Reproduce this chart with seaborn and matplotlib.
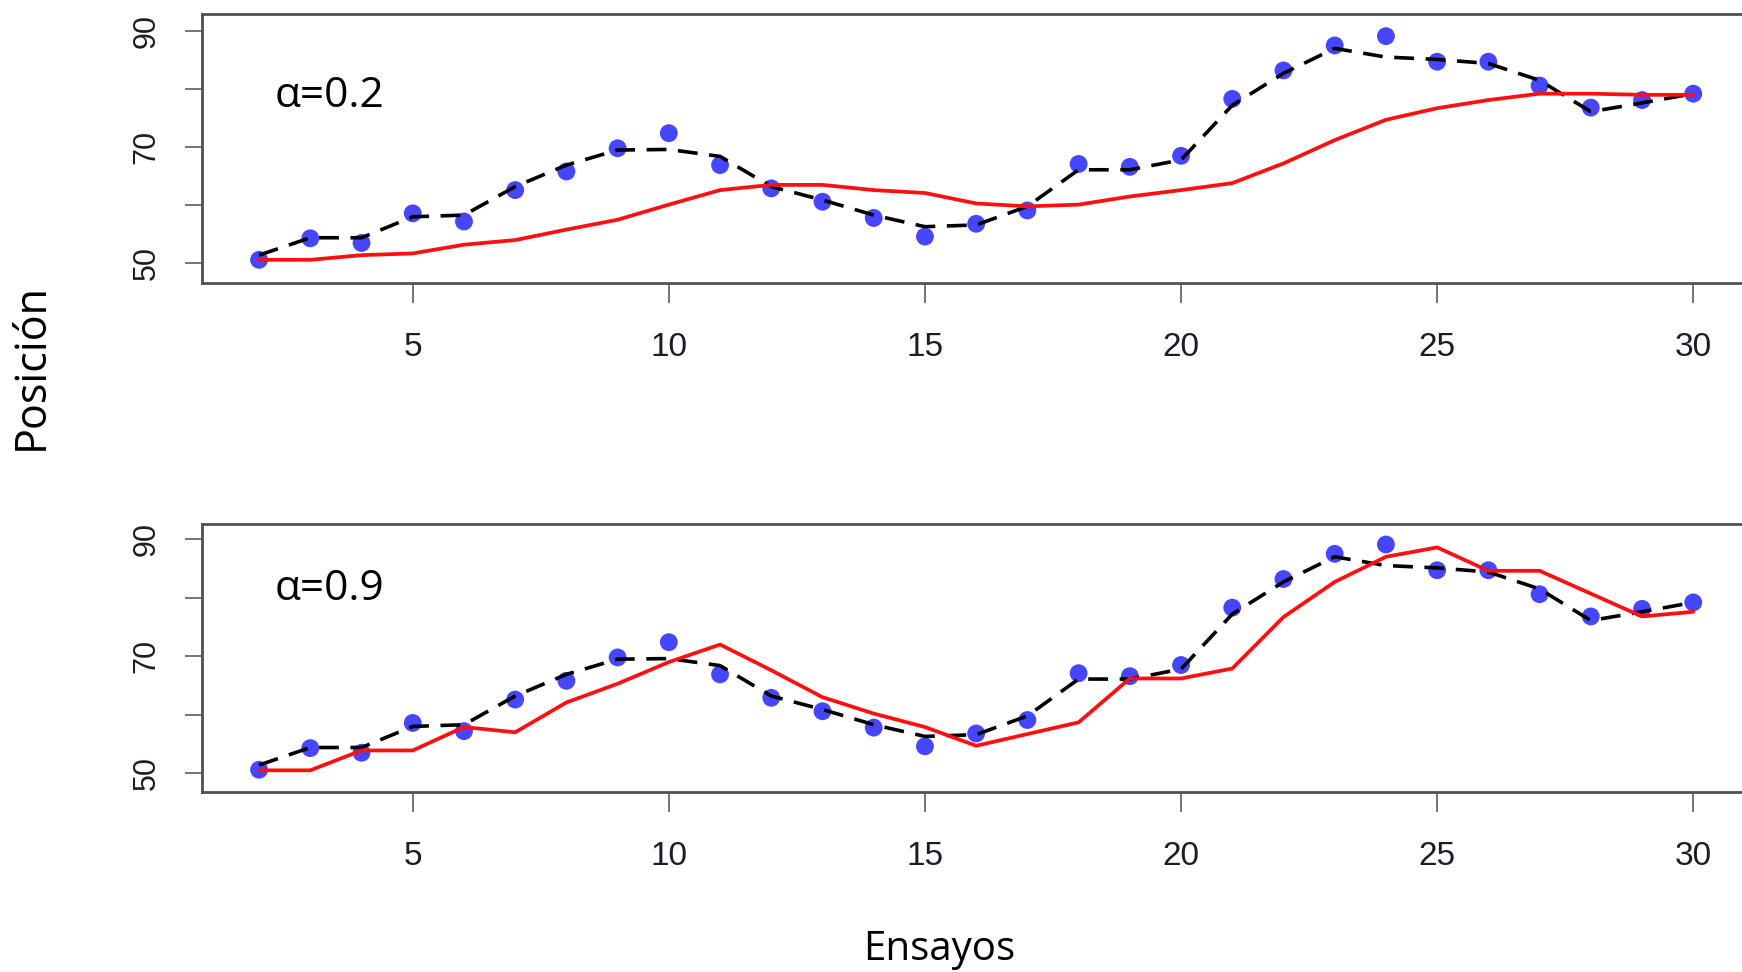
import matplotlib
matplotlib.use("Agg")
import matplotlib.pyplot as plt
import numpy as np
import pandas as pd
import seaborn as sns

# Trial numbers and observed positions
trials = list(range(2, 31))
observed = [50.6, 54.3, 53.5, 58.6, 57.2, 62.6, 65.8, 69.8, 72.4, 66.9,
            62.9, 60.6, 57.8, 54.6, 56.8, 59.1, 67.1, 66.6, 68.5, 78.3,
            83.2, 87.5, 89.1, 84.7, 84.7, 80.6, 76.8, 78.1, 79.2]
# Smoothed trend of the observations (dashed line)
trend = [51.4, 54.4, 54.4, 58.0, 58.3, 63.2, 66.9, 69.5, 69.6, 68.4,
         63.2, 60.9, 58.3, 56.3, 56.6, 59.8, 66.1, 66.1, 67.8, 77.2,
         82.7, 87.0, 85.5, 85.1, 84.4, 81.5, 76.1, 77.6, 79.2]
# Model predictions for the two learning rates
pred_a02 = [50.6, 50.6, 51.4, 51.7, 53.2, 54.0, 55.8, 57.5, 60.1, 62.6,
            63.5, 63.5, 62.6, 62.1, 60.3, 59.8, 60.1, 61.5, 62.6, 63.8,
            67.2, 71.2, 74.7, 76.7, 78.1, 79.2, 79.2, 79.0, 79.0]
pred_a09 = [50.5, 50.5, 53.9, 53.9, 57.9, 57.0, 62.1, 65.3, 69.0, 72.0,
            67.6, 63.0, 60.2, 57.9, 54.7, 56.7, 58.7, 66.2, 66.2, 67.9,
            76.7, 82.7, 87.0, 88.6, 84.6, 84.6, 80.7, 76.8, 77.6]

panel_labels = ["\u03b1=0.2", "\u03b1=0.9"]
x_ticks = [5, 10, 15, 20, 25, 30]
y_ticks = [50, 60, 70, 80, 90]
y_tick_labels = ["50", "", "70", "", "90"]
y_label = "Posici\u00f3n"
x_label = "Ensayos"

sns.set_style("ticks")
label_font = ["Open Sans", "DejaVu Sans"]
tick_font = ["Liberation Sans Narrow", "Liberation Sans", "DejaVu Sans"]

fig = plt.figure(figsize=(17.42, 9.72), dpi=100)
ax_top = fig.add_axes([0.116, 0.7088, 0.886, 0.2767])
ax_bot = fig.add_axes([0.116, 0.1855, 0.886, 0.2754])

spine_col = "#505050"
text_col = "#1c1c28"

panels = [
    (ax_top, pred_a02, panel_labels[0], (46.6, 92.9), 76.9),
    (ax_bot, pred_a09, panel_labels[1], (46.85, 92.6), 79.6),
]

for ax, pred, lab, ylim, lab_y in panels:
    df = pd.DataFrame({"trial": trials, "obs": observed,
                       "trend": trend, "pred": pred})
    sns.scatterplot(data=df, x="trial", y="obs", ax=ax, s=165,
                    color="#4646ff", edgecolor="none", zorder=2)
    sns.lineplot(data=df, x="trial", y="trend", ax=ax, color="black",
                 lw=2.6, zorder=3)
    ax.lines[-1].set_dashes((5.5, 3.2))
    ax.lines[-1].set_dash_capstyle("butt")
    sns.lineplot(data=df, x="trial", y="pred", ax=ax, color="#ff1010",
                 lw=2.7, zorder=4)

    ax.set_xlim(0.887, 31.02)
    ax.set_ylim(*ylim)
    ax.set_xticks(x_ticks)
    ax.set_xticklabels([str(t) for t in x_ticks], fontfamily=tick_font,
                       fontsize=24, color=text_col)
    ax.set_yticks(y_ticks)
    ax.set_yticklabels(y_tick_labels, fontfamily=tick_font, fontsize=22,
                       color=text_col, rotation=90, va="center")
    ax.tick_params(axis="x", length=14.5, width=1.1, color=spine_col, pad=21)
    ax.tick_params(axis="y", length=12, width=1.1, color=spine_col, pad=17)
    ax.set_xlabel("")
    ax.set_ylabel("")
    for side in ["top", "left", "bottom"]:
        ax.spines[side].set_color(spine_col)
        ax.spines[side].set_linewidth(2.0)
    ax.spines["right"].set_visible(False)

    ax.text(2.31, lab_y, lab, fontsize=30.5, fontfamily=label_font,
            color="black", ha="left", va="baseline")

fig.text(54 / 1742, 1 - 366.7 / 972, y_label, rotation=90, ha="right",
         va="center", fontsize=31, fontfamily=label_font, color="black")
fig.text(939 / 1742, 1 - 960 / 972, x_label, ha="center", va="baseline",
         fontsize=29, fontfamily=label_font, color="black")

fig.savefig("out.png", dpi=100, facecolor="white")
